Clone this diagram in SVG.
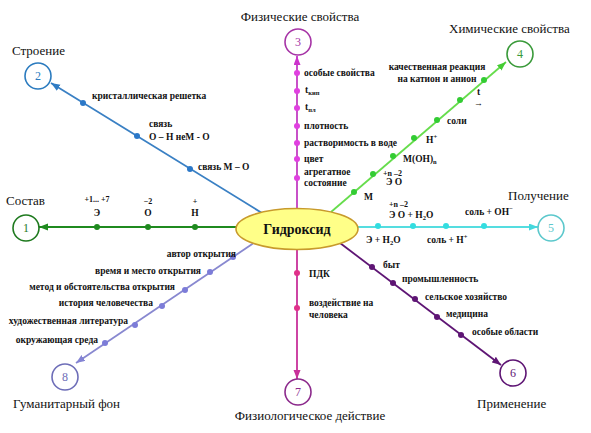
<svg xmlns="http://www.w3.org/2000/svg" width="591" height="433" viewBox="0 0 591 433">
<style>
text{font-family:"Liberation Serif","Times New Roman",serif;fill:#111}
.t{font-size:13px}
.l{font-size:9.5px;font-weight:bold}
.s{font-size:8px;font-weight:bold}
.num{font-size:12px;text-anchor:middle}
.c{fill:#fff;stroke-width:1.6}
.ln{stroke-width:1.8;fill:none}
</style>
<defs>
<marker id="a1" markerUnits="userSpaceOnUse" markerWidth="10" markerHeight="8" refX="9" refY="3.5" orient="auto"><path d="M0,0L9,3.5L0,7Z" fill="#1f8a1f"/></marker>
<marker id="a2" markerUnits="userSpaceOnUse" markerWidth="10" markerHeight="8" refX="9" refY="3.5" orient="auto"><path d="M0,0L9,3.5L0,7Z" fill="#2f7cc4"/></marker>
<marker id="a3" markerUnits="userSpaceOnUse" markerWidth="10" markerHeight="8" refX="9" refY="3.5" orient="auto"><path d="M0,0L9,3.5L0,7Z" fill="#cc33cc"/></marker>
<marker id="a4" markerUnits="userSpaceOnUse" markerWidth="10" markerHeight="8" refX="9" refY="3.5" orient="auto"><path d="M0,0L9,3.5L0,7Z" fill="#44cc33"/></marker>
<marker id="a5" markerUnits="userSpaceOnUse" markerWidth="10" markerHeight="8" refX="9" refY="3.5" orient="auto"><path d="M0,0L9,3.5L0,7Z" fill="#44d8dd"/></marker>
<marker id="a6" markerUnits="userSpaceOnUse" markerWidth="10" markerHeight="8" refX="9" refY="3.5" orient="auto"><path d="M0,0L9,3.5L0,7Z" fill="#5e1574"/></marker>
<marker id="a7" markerUnits="userSpaceOnUse" markerWidth="10" markerHeight="8" refX="9" refY="3.5" orient="auto"><path d="M0,0L9,3.5L0,7Z" fill="#c8309a"/></marker>
<marker id="a8" markerUnits="userSpaceOnUse" markerWidth="10" markerHeight="8" refX="9" refY="3.5" orient="auto"><path d="M0,0L9,3.5L0,7Z" fill="#8484d4"/></marker>
</defs>
<rect width="591" height="433" fill="#fff"/>
<g id="connectors">
<line class="ln" x1="240" y1="227" x2="39" y2="227" stroke="#1f8a1f" marker-end="url(#a1)"/>
<line class="ln" x1="262" y1="213" x2="51" y2="83" stroke="#3a80c4" marker-end="url(#a2)"/>
<line class="ln" x1="297" y1="210" x2="297" y2="56" stroke="#c23ec2" marker-end="url(#a3)"/>
<line class="ln" x1="331" y1="212" x2="506" y2="62" stroke="#66dd4c" marker-end="url(#a4)"/>
<line class="ln" x1="355" y1="227" x2="538" y2="227" stroke="#55dde0" marker-end="url(#a5)"/>
<line class="ln" x1="340" y1="243" x2="501" y2="365" stroke="#5e1574" marker-end="url(#a6)"/>
<line class="ln" x1="297" y1="249" x2="297" y2="379" stroke="#c8309a" marker-end="url(#a7)"/>
<line class="ln" x1="253" y1="243.5" x2="76" y2="363" stroke="#8888d0" marker-end="url(#a8)"/>
</g>
<g id="branch1" fill="#1f8a1f">
<circle cx="97" cy="227" r="3"/><circle cx="148" cy="227" r="3"/><circle cx="195" cy="227" r="3"/>
<text class="s" x="97" y="202" text-anchor="middle">+1... +7</text>
<text class="l" x="97" y="216" text-anchor="middle">Э</text>
<text class="s" x="148" y="204" text-anchor="middle">−2</text>
<text class="l" x="148" y="216" text-anchor="middle">O</text>
<text class="s" x="195" y="204" text-anchor="middle">+</text>
<text class="l" x="195" y="216" text-anchor="middle">H</text>
</g>
<g id="branch2" fill="#2b78c8">
<circle cx="83" cy="103" r="3"/><circle cx="137" cy="136" r="3"/><circle cx="190" cy="169" r="3"/>
<text class="l" x="92" y="99">кристаллическая решетка</text>
<text class="l" x="149" y="127">связь</text>
<text class="l" x="149" y="140">O – H неM - O</text>
<text class="l" x="198" y="170">связь M – O</text>
</g>
<g id="branch3" fill="#e040e0">
<circle cx="297" cy="73" r="3"/><circle cx="297" cy="91" r="3"/><circle cx="297" cy="108" r="3"/><circle cx="297" cy="126" r="3"/><circle cx="297" cy="143" r="3"/><circle cx="297" cy="159" r="3"/><circle cx="297" cy="178" r="3"/>
<text class="l" x="304" y="76">особые свойства</text>
<text class="l" x="305" y="93">t<tspan font-size="6.5" dy="2">кип</tspan></text>
<text class="l" x="305" y="110">t<tspan font-size="6.5" dy="2">пл</tspan></text>
<text class="l" x="304" y="129">плотность</text>
<text class="l" x="304" y="146">растворимость в воде</text>
<text class="l" x="304" y="162">цвет</text>
<text class="l" x="304" y="175">агрегатное</text>
<text class="l" x="304" y="186">состояние</text>
</g>
<g id="branch4" fill="#33cc33">
<circle cx="484" cy="80" r="3"/><circle cx="460" cy="100" r="3"/><circle cx="437" cy="120" r="3"/><circle cx="414" cy="138" r="3"/><circle cx="393" cy="156" r="3"/><circle cx="373" cy="174" r="3"/><circle cx="354" cy="192" r="3"/>
<text class="l" x="437" y="70" text-anchor="middle">качественная реакция</text>
<text class="l" x="437" y="82" text-anchor="middle">на катион и анион</text>
<text class="l" x="477" y="95">t</text>
<text x="474" y="106" font-size="9" font-weight="bold">→</text>
<text class="l" x="447" y="124">соли</text>
<text class="l" x="426" y="143">H<tspan font-size="6.5" dy="-4">+</tspan></text>
<text class="l" x="403" y="162">M(OH)<tspan font-size="6.5" dy="2">n</tspan></text>
<text class="s" x="383" y="176">+n –2</text>
<text class="l" x="386" y="185">Э O</text>
<text class="l" x="364" y="200">M</text>
</g>
<g id="branch5" fill="#33dde0">
<circle cx="378" cy="226" r="3"/><circle cx="413" cy="226" r="3"/><circle cx="446" cy="226" r="3"/><circle cx="484" cy="226" r="3"/>
<text class="s" x="389" y="207">+n –2</text>
<text class="l" x="389" y="218">Э O + H<tspan font-size="6.5" dy="2">2</tspan><tspan dy="-2">O</tspan></text>
<text class="l" x="465" y="215">соль + OH<tspan font-size="6.5" dy="-4">−</tspan></text>
<text class="l" x="366" y="243">Э + H<tspan font-size="6.5" dy="2">2</tspan><tspan dy="-2">O</tspan></text>
<text class="l" x="427" y="243">соль + H<tspan font-size="6.5" dy="-4">+</tspan></text>
</g>
<g id="branch6" fill="#5e1574">
<circle cx="372" cy="267" r="3"/><circle cx="393" cy="283" r="3"/><circle cx="415" cy="299" r="3"/><circle cx="437" cy="317" r="3"/><circle cx="461" cy="335" r="3"/>
<text class="l" x="383" y="268">быт</text>
<text class="l" x="402" y="282">промышленность</text>
<text class="l" x="425" y="300">сельское хозяйство</text>
<text class="l" x="446" y="317">медицина</text>
<text class="l" x="472" y="335">особые области</text>
</g>
<g id="branch7" fill="#e0308a">
<circle cx="297" cy="273" r="3"/><circle cx="297" cy="308" r="3"/>
<text class="l" x="309" y="277">ПДК</text>
<text class="l" x="309" y="306">воздействие на</text>
<text class="l" x="309" y="318">человека</text>
</g>
<g id="branch8" fill="#7c7cd8">
<circle cx="233" cy="257" r="3"/><circle cx="210" cy="272" r="3"/><circle cx="185" cy="290" r="3"/><circle cx="162" cy="306" r="3"/><circle cx="135" cy="325" r="3"/><circle cx="105" cy="343" r="3"/>
<text class="l" x="236" y="257" text-anchor="end">автор открытия</text>
<text class="l" x="201" y="274" text-anchor="end">время и место открытия</text>
<text class="l" x="175" y="290" text-anchor="end">метод и обстоятельства открытия</text>
<text class="l" x="153" y="306" text-anchor="end">история человечества</text>
<text class="l" x="128" y="324" text-anchor="end">художественная литература</text>
<text class="l" x="98" y="343" text-anchor="end">окружающая среда</text>
</g>
<g id="center">
<ellipse cx="297" cy="229" rx="61" ry="20.5" fill="#ffff88" stroke="#c89a2c" stroke-width="1.6"/>
<text x="297" y="234" text-anchor="middle" font-size="14" font-weight="bold">Гидроксид</text>
</g>
<g id="node1">
<circle class="c" cx="26" cy="228" r="13" stroke="#1f7a1f"/>
<text class="num" x="26" y="232" style="fill:#1f7a1f">1</text>
<text class="t" x="6" y="205">Состав</text>
</g>
<g id="node2">
<circle class="c" cx="38" cy="76" r="13" stroke="#2b7bbf"/>
<text class="num" x="38" y="80" style="fill:#2b7bbf">2</text>
<text class="t" x="12" y="55">Строение</text>
</g>
<g id="node3">
<circle class="c" cx="298" cy="42" r="13" stroke="#a634a6"/>
<text class="num" x="298" y="46" style="fill:#a634a6">3</text>
<text class="t" x="300" y="21" text-anchor="middle">Физические свойства</text>
</g>
<g id="node4">
<circle class="c" cx="520" cy="54" r="13" stroke="#3a9a3a"/>
<text class="num" x="520" y="58" style="fill:#3a9a3a">4</text>
<text class="t" x="449" y="33">Химические свойства</text>
</g>
<g id="node5">
<circle class="c" cx="551" cy="228" r="13" stroke="#5cc8cc"/>
<text class="num" x="551" y="232" style="fill:#5cc8cc">5</text>
<text class="t" x="508" y="200">Получение</text>
</g>
<g id="node6">
<circle class="c" cx="513" cy="373" r="13" stroke="#5e1574"/>
<text class="num" x="513" y="377" style="fill:#5e1574">6</text>
<text class="t" x="477" y="408">Применение</text>
</g>
<g id="node7">
<circle class="c" cx="298" cy="392" r="13" stroke="#8c2a8c"/>
<text class="num" x="298" y="396" style="fill:#8c2a8c">7</text>
<text class="t" x="310" y="420" text-anchor="middle">Физиологическое действие</text>
</g>
<g id="node8">
<circle class="c" cx="65" cy="377" r="13" stroke="#6e6eb8"/>
<text class="num" x="65" y="381" style="fill:#6e6eb8">8</text>
<text class="t" x="13" y="408">Гуманитарный фон</text>
</g>
</svg>
